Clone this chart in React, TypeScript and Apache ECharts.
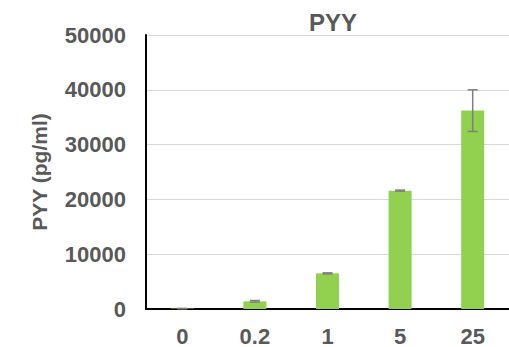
import React, { useEffect, useRef } from "react";
import * as echarts from "echarts";

const categories = ["0", "0.2", "1", "5", "25"];
const means = [80, 1400, 6500, 21600, 36200];
const errors = [20, 150, 100, 100, 3800];
const yTicks = { min: 0, max: 50000, interval: 10000 };

export default function App() {
  const ref = useRef<HTMLDivElement>(null);
  useEffect(() => {
    const chart = echarts.init(ref.current!, null, { renderer: "svg" });
    const errData = means.map((m, i) => [i, m - errors[i], m + errors[i]]);
    chart.setOption({
      animation: false,
      textStyle: { fontFamily: "Liberation Sans, Arial, sans-serif" },
      title: {
        text: "PYY",
        left: 328,
        top: 5,
        textAlign: "center",
        textStyle: { fontSize: 24, fontWeight: "bold", color: "#595959" },
      },
      grid: { left: 146, right: -3, top: 35, bottom: 36, containLabel: false },
      xAxis: {
        type: "category",
        data: categories,
        axisLine: { lineStyle: { color: "#000", width: 2 } },
        axisTick: { show: false },
        axisLabel: { fontSize: 22, fontWeight: "bold", color: "#595959", margin: 16 },
      },
      yAxis: {
        type: "value",
        min: yTicks.min,
        max: yTicks.max,
        interval: yTicks.interval,
        name: "PYY (pg/ml)",
        nameLocation: "middle",
        nameGap: 96,
        nameTextStyle: { fontSize: 21, fontWeight: "bold", color: "#595959" },
        axisLine: { show: true, lineStyle: { color: "#000", width: 2 } },
        axisTick: { show: false },
        axisLabel: {
          fontSize: 22,
          fontWeight: "bold",
          color: "#595959",
          margin: 20,
          formatter: (v: number) => String(v),
        },
        splitLine: { lineStyle: { color: "#d9d9d9", width: 1 } },
      },
      series: [
        {
          type: "bar",
          data: means,
          barWidth: 23,
          itemStyle: { color: "#92D050" },
          z: 2,
        },
        {
          type: "custom",
          data: errData,
          z: 3,
          renderItem: (params: any, api: any) => {
            const x = api.value(0);
            const lo = api.coord([x, api.value(1)]);
            const hi = api.coord([x, api.value(2)]);
            const hw = 5;
            const style = { stroke: "#7f7f7f", lineWidth: 1.5 };
            return {
              type: "group",
              children: [
                { type: "line", shape: { x1: lo[0], y1: lo[1], x2: hi[0], y2: hi[1] }, style },
                { type: "line", shape: { x1: lo[0] - hw, y1: lo[1], x2: lo[0] + hw, y2: lo[1] }, style },
                { type: "line", shape: { x1: hi[0] - hw, y1: hi[1], x2: hi[0] + hw, y2: hi[1] }, style },
              ],
            };
          },
        },
      ],
    });
    return () => chart.dispose();
  }, []);
  return <div ref={ref} style={{ width: 509, height: 347, position: "absolute", left: 0, top: 0 }} />;
}
